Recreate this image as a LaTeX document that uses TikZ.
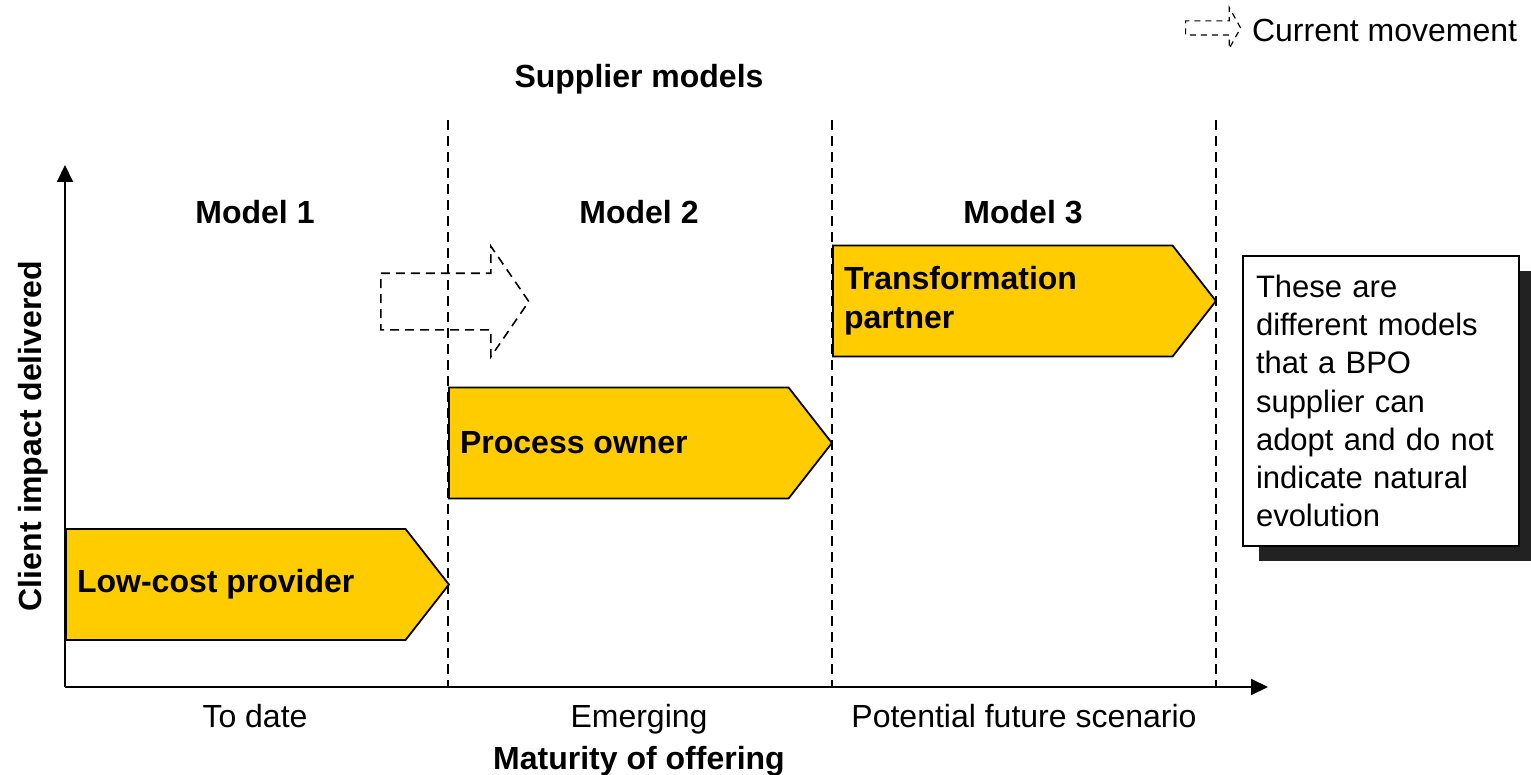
\documentclass[tikz,border=0pt]{standalone}
\usepackage{fontspec}
\setmainfont{Liberation Sans}
\usetikzlibrary{arrows.meta,positioning,shapes.symbols,shapes.arrows,shadows}

\begin{document}
\begin{tikzpicture}[x=0.5pt,y=-0.5pt]
\definecolor{chevronColour}{RGB}{255, 204, 0}
			\definecolor{shadowColour}{RGB}{34, 34, 34}
			\tikzstyle{heading}=[font=\fontsize{16}{19.5}\selectfont\bfseries]
			\tikzstyle{caption}=[font=\fontsize{16}{19.5}\selectfont]
			\tikzstyle{chevron}=[signal, draw, fill=chevronColour, line width=0.9pt, signal pointer angle=104, minimum width=191.5pt, minimum height=55.5pt, inner sep=0pt, anchor=west]
			\tikzstyle{chevronlabel}=[heading, anchor=west, xshift=2.5pt, align=left]
			\tikzstyle{movement}=[single arrow, draw, line width=0.8pt, dash pattern=on 4.5pt off 3pt, inner sep=0pt, text depth=0pt, single arrow head indent=0pt, anchor=west]
			\tikzstyle{divider}=[line width=0.7pt, dash pattern=on 5pt off 3pt]
			\tikzstyle{axis}=[line width=1pt, -{Triangle[length=8.5pt,width=8pt]}]

			\useasboundingbox (0,0) rectangle (1531,775);

			% stage dividers
			\foreach \x in {448,832,1216}
				\draw[divider] (\x,120) -- (\x,687);

			% axes
			\coordinate (origin) at (65,687);
			\draw[axis] (origin) -- (65,165);
			\draw[axis] (origin) -- (1268,687);

			% the three supplier models
			\node [chevron, label={[chevronlabel]west:Low-cost provider}] (lowcost) at (65,584.5) {};
			\node [chevron, label={[chevronlabel]west:Process owner}] (owner) at (448,443) {};
			\node [chevron, label={[chevronlabel]west:Transformation\\partner}] (partner) at (832,301) {};

			% movement between models
			\node [movement, minimum height=74pt, text height=27.5pt, single arrow head extend=13.5pt, single arrow tip angle=111] (move) at (380,301.5) {};

			% legend
			\node [movement, minimum height=27.5pt, text height=6.5pt, single arrow head extend=6.75pt, single arrow tip angle=122, line width=0.6pt, dash pattern=on 3pt off 2.5pt] (legendarrow) at (1185,28) {};
			\node [caption, anchor=base west] (legendtext) at (1245,42) {Current movement};

			% titles and axis labels
			\node [heading, anchor=base] (supplier) at (639,88) {Supplier models};
			\node [heading, anchor=base] (model1) at (255,224) {Model 1};
			\node [heading, anchor=base] (model2) at (639,224) {Model 2};
			\node [heading, anchor=base] (model3) at (1023,224) {Model 3};
			\node [caption, anchor=base] (todate) at (255,727) {To date};
			\node [caption, anchor=base] (emerging) at (639,727) {Emerging};
			\node [caption, anchor=base] (future) at (1024,727) {Potential future scenario};
			\node [heading, anchor=base] (maturity) at (639,769) {Maturity of offering};
			\node [heading, anchor=base, rotate=90] (impact) at (41,436) {Client impact delivered};

			% note
			\node [font=\fontsize{15.5}{19.1}\selectfont, draw, fill=white, line width=1pt, text width=125pt, minimum height=145pt, inner xsep=6.5pt, align=left, anchor=north west,
				drop shadow={shadow xshift=8pt, shadow yshift=-7.5pt, fill=shadowColour, opacity=1}] (note) at (1242,255)
				{These are\\different models\\that a BPO\\supplier can\\adopt and do not\\indicate natural\\evolution};
		\end{tikzpicture}
\end{document}
